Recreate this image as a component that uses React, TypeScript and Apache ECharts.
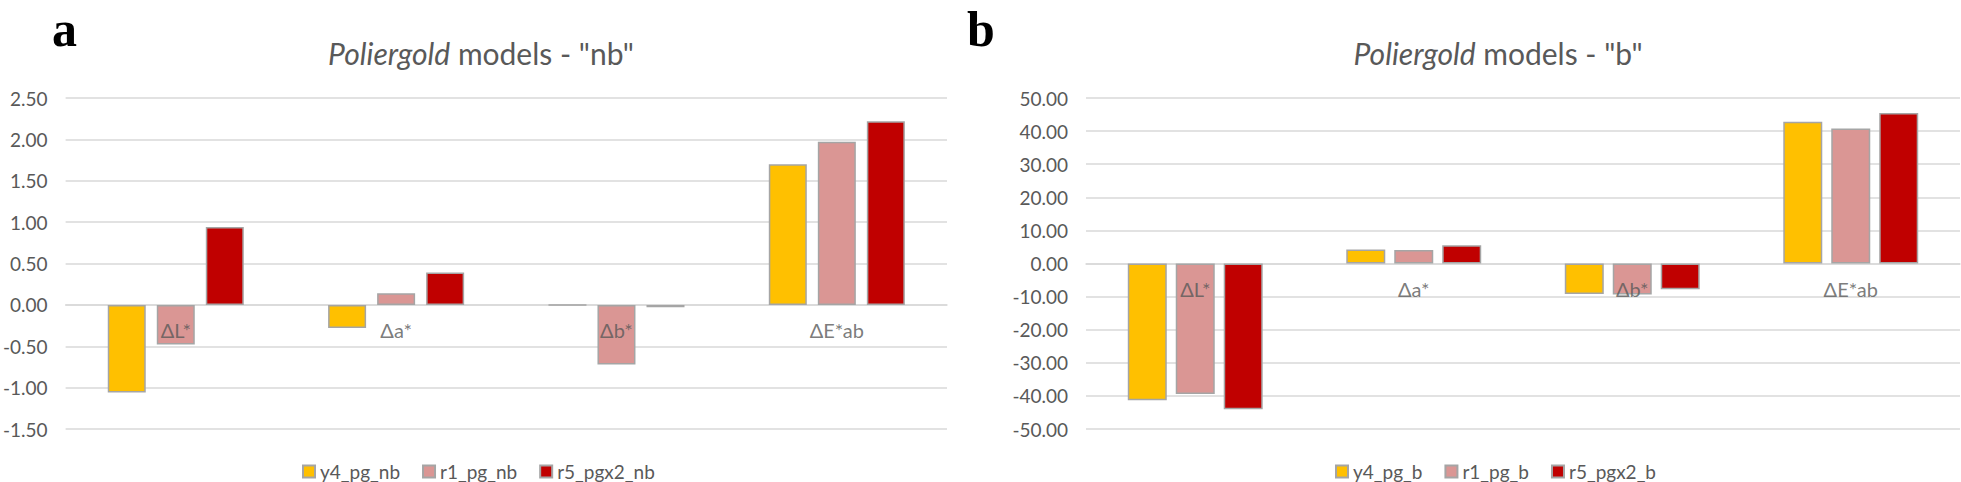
import React, { useEffect, useRef } from "react";
import * as echarts from "echarts";

const categories = ["ΔL*", "Δa*", "Δb*", "ΔE*ab"];

const namesA = ["y4_pg_nb", "r1_pg_nb", "r5_pgx2_nb"];
const y4A = [-1.06, -0.28, 0.0, 1.7];
const r1A = [-0.48, 0.14, -0.72, 1.97];
const r5A = [0.94, 0.39, -0.03, 2.22];

const namesB = ["y4_pg_b", "r1_pg_b", "r5_pgx2_b"];
const y4B = [-41.3, 4.2, -9.2, 42.8];
const r1B = [-39.4, 4.1, -9.4, 40.8];
const r5B = [-44.0, 5.5, -7.8, 45.5];

const axisA = { min: -1.5, max: 2.5, interval: 0.5 };
const axisB = { min: -50, max: 50, interval: 10 };

const titleA = '{i|Poliergold} models - "nb"';
const titleB = '{i|Poliergold} models - "b"';

const COLORS = ["#FFC000", "#DA9694", "#C00000"];
const FONT = "Lato";
const TEXT = "#595959";

export default function App() {
  const ref = useRef<HTMLDivElement>(null);
  useEffect(() => {
    if (!ref.current) return;
    const chart = echarts.init(ref.current, null, { renderer: "svg" });

    const xAxisBase = (gridIndex: number) => ({
      type: "category",
      gridIndex,
      data: categories,
      axisLine: { onZero: true, lineStyle: { color: "#D9D9D9", width: 1.5 } },
      axisTick: { show: false },
      axisLabel: { show: false },
    });
    const yAxisBase = (gridIndex: number, cfg: any) => ({
      type: "value",
      gridIndex,
      min: cfg.min,
      max: cfg.max,
      interval: cfg.interval,
      axisLine: { show: false },
      axisTick: { show: false },
      splitLine: { lineStyle: { color: "#D9D9D9", width: 1.5 } },
      axisLabel: {
        color: TEXT,
        fontFamily: FONT,
        fontSize: 19,
        margin: 18,
        formatter: (v: number) => v.toFixed(2),
      },
    });

    const mkSeries = (names: string[], data: number[][], idx: number, bw: number, gap: string) =>
      names.map((n, i) => ({
        name: n,
        type: "bar",
        xAxisIndex: idx,
        yAxisIndex: idx,
        data: data[i],
        barWidth: bw,
        barGap: gap,
        itemStyle: { color: COLORS[i], borderColor: "#A5A5A5", borderWidth: 1.5 },
      }));

    const catLabels = (idx: number) => ({
      type: "scatter",
      xAxisIndex: idx,
      yAxisIndex: idx,
      symbolSize: 0,
      z: 10,
      silent: true,
      data: categories.map((c) => [c, 0]),
      label: {
        show: true,
        position: "bottom",
        distance: 15,
        color: TEXT,
        fontFamily: FONT,
        fontSize: 20,
        formatter: (p: any) => categories[p.dataIndex],
      },
    });

    const rich = {
      i: { fontStyle: "italic", fontFamily: FONT, fontSize: 30, color: TEXT },
    };

    const legendBase = (data: string[], left: number) => ({
      data,
      left,
      top: 462,
      padding: 0,
      icon: "rect",
      itemWidth: 12,
      itemHeight: 12,
      itemGap: 22,
      textStyle: { color: TEXT, fontFamily: FONT, fontSize: 19, lineHeight: 19 },
    });

    chart.setOption({
      animation: false,
      backgroundColor: "#ffffff",
      grid: [
        { left: 61, top: 98, width: 886, height: 331 },
        { left: 1086, top: 98, width: 874, height: 331 },
      ],
      xAxis: [xAxisBase(0), xAxisBase(1)],
      yAxis: [yAxisBase(0, axisA), yAxisBase(1, axisB)],
      legend: [legendBase(namesA, 302), legendBase(namesB, 1335)],
      graphic: [
        {
          type: "text",
          x: 481,
          y: 53,
          style: {
            text: titleA,
            rich,
            fill: TEXT,
            font: `30px ${FONT}`,
            align: "center",
            verticalAlign: "middle",
          },
        },
        {
          type: "text",
          x: 1498,
          y: 53,
          style: {
            text: titleB,
            rich,
            fill: TEXT,
            font: `30px ${FONT}`,
            align: "center",
            verticalAlign: "middle",
          },
        },
        {
          type: "text",
          x: 52,
          y: 29,
          style: {
            text: "a",
            fill: "#000",
            font: 'bold 50px "Liberation Serif"',
            align: "left",
            verticalAlign: "middle",
          },
        },
        {
          type: "text",
          x: 967,
          y: 29,
          style: {
            text: "b",
            fill: "#000",
            font: 'bold 50px "Liberation Serif"',
            align: "left",
            verticalAlign: "middle",
          },
        },
      ],
      series: [
        ...mkSeries(namesA, [y4A, r1A, r5A], 0, 38, "29%"),
        ...mkSeries(namesB, [y4B, r1B, r5B], 1, 39, "23%"),
        catLabels(0),
        catLabels(1),
      ],
    });
    return () => chart.dispose();
  }, []);
  return (
    <div
      ref={ref}
      style={{ position: "fixed", left: 0, top: 0, width: 1961, height: 482, background: "#fff" }}
    />
  );
}
